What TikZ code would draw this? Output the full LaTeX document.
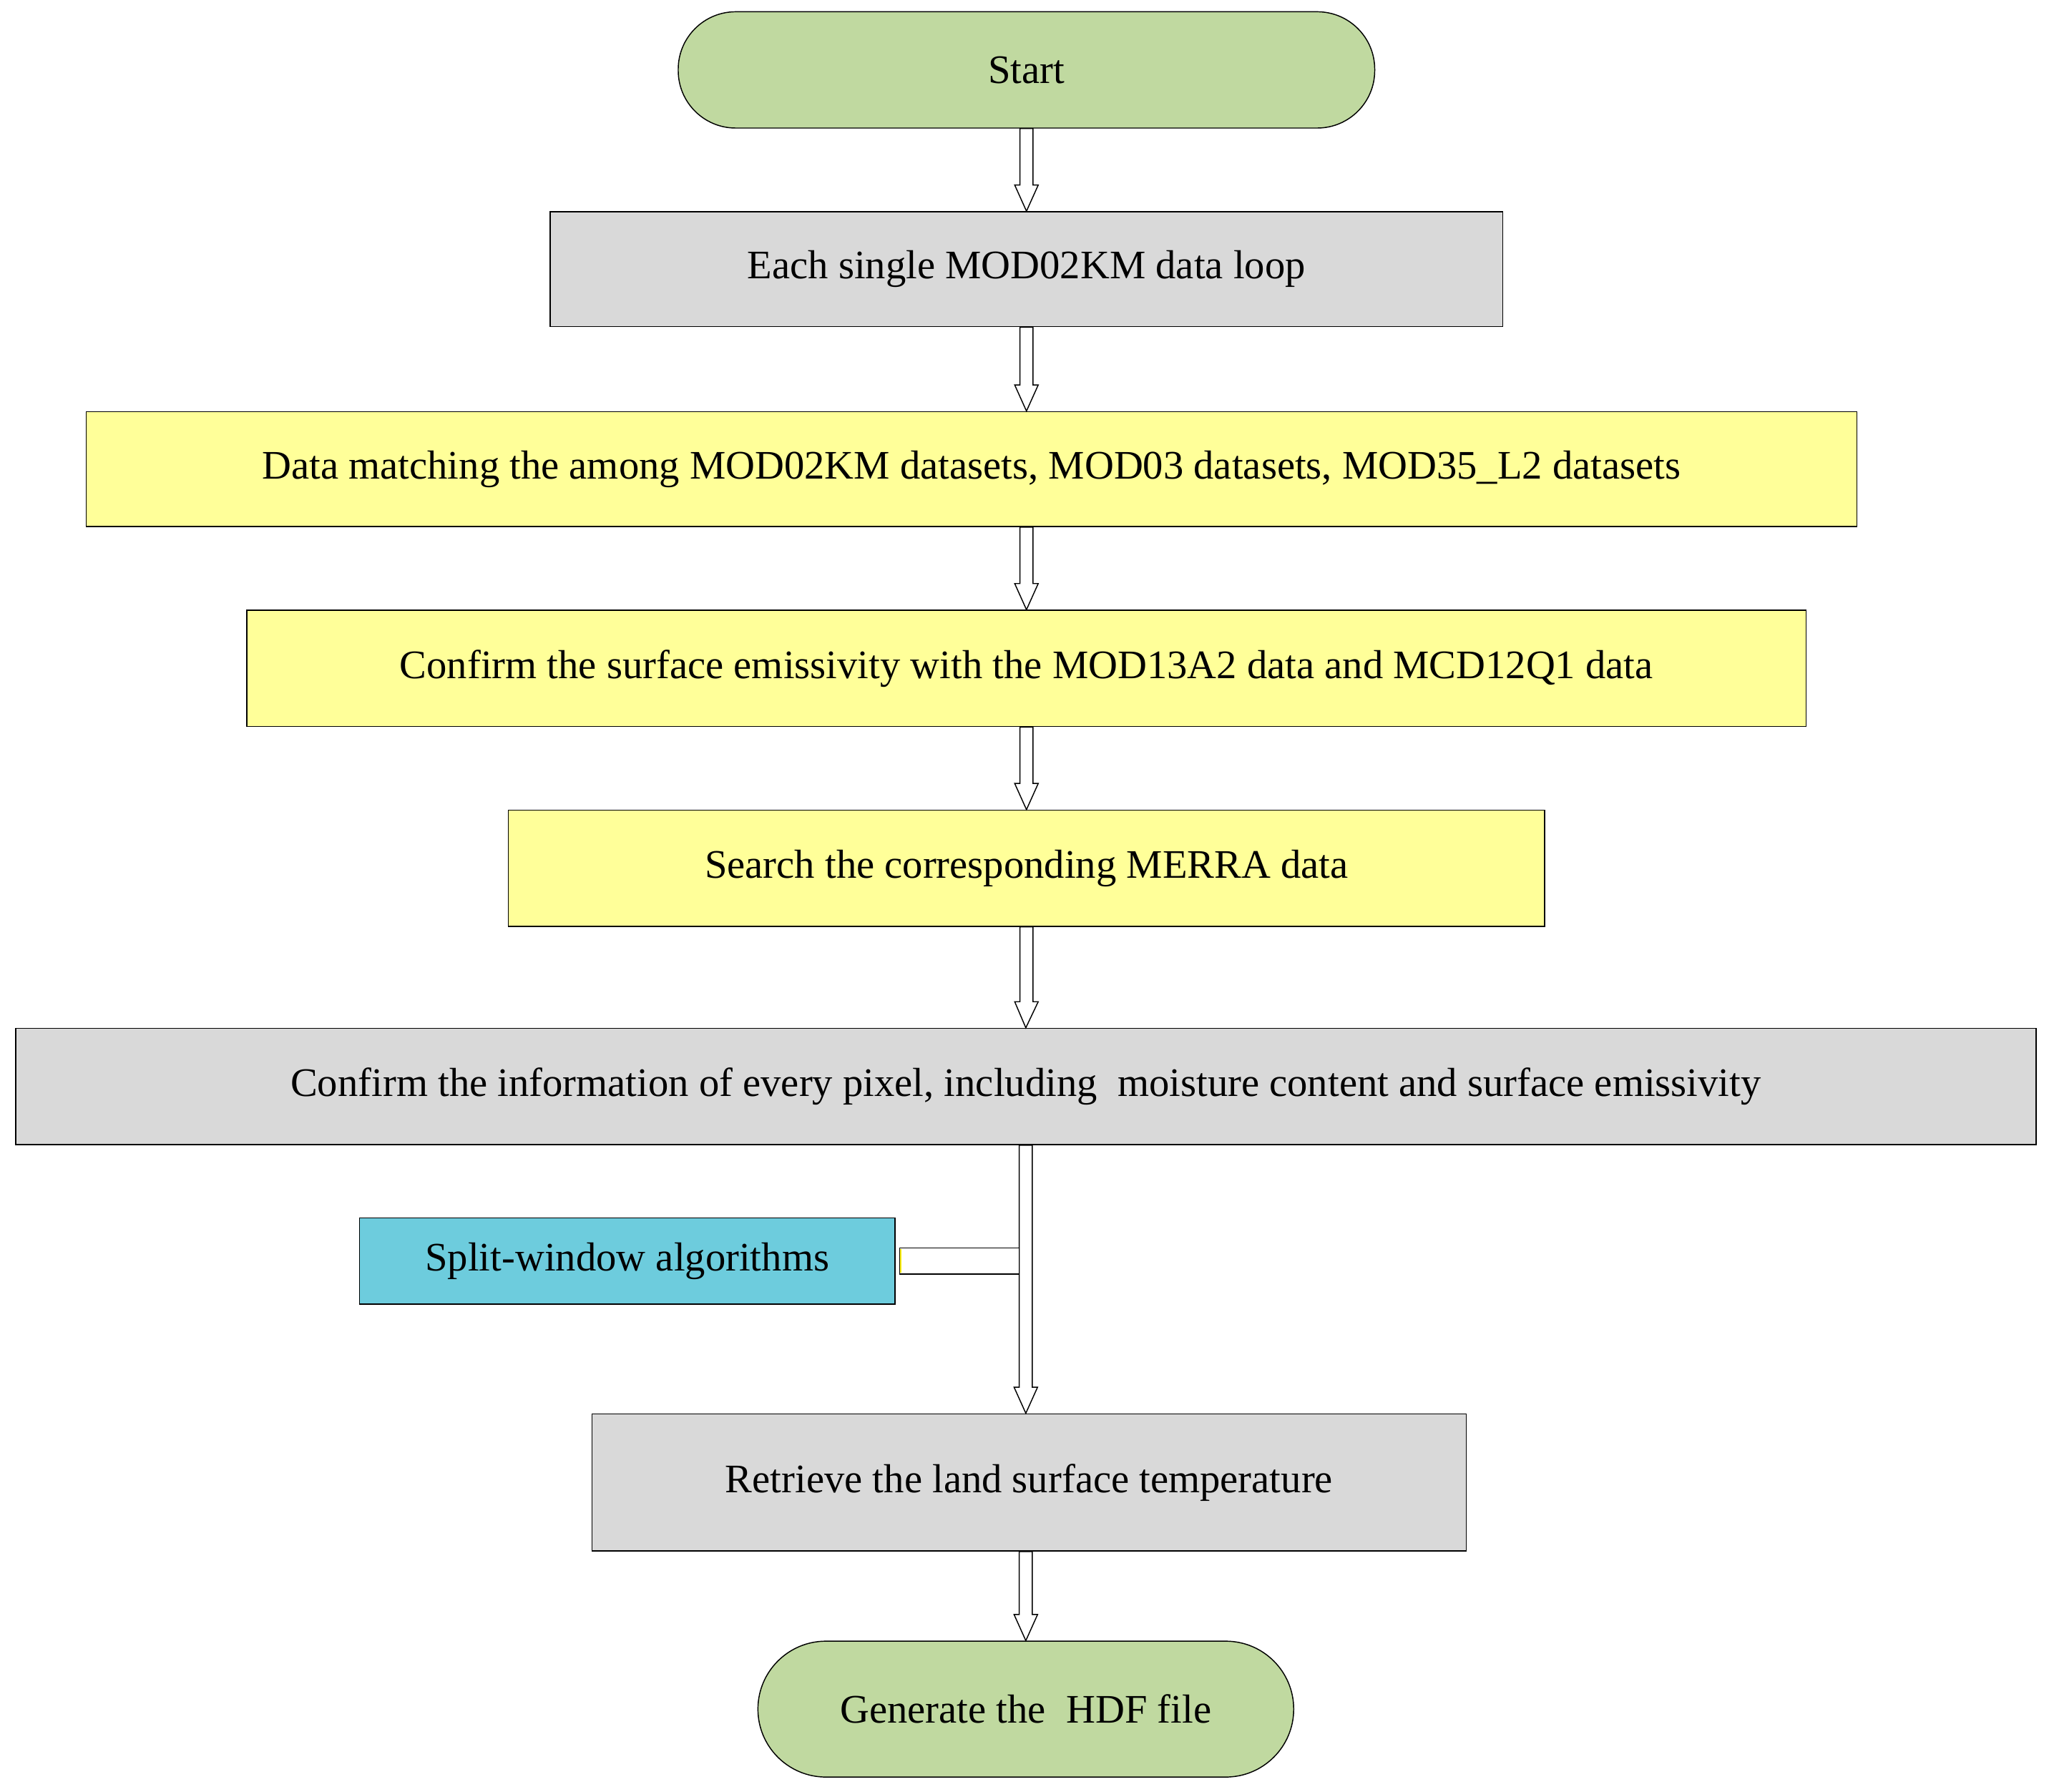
\documentclass[tikz,border=0pt]{standalone}
\usepackage{fontspec}
\setmainfont{Liberation Serif}
\usetikzlibrary{calc}
\definecolor{cgreen}{HTML}{C0D9A0}
\definecolor{cgray}{HTML}{D9D9D9}
\definecolor{cyel}{HTML}{FFFF99}
\definecolor{ccyan}{HTML}{6DCCDD}
\begin{document}
\begin{tikzpicture}[x=1pt,y=1pt,
  box/.style={draw=black,line width=0.8pt,inner sep=0pt,font=\fontsize{31}{36}\selectfont},
  pill/.style={box,rounded corners=44pt,fill=cgreen},
  barrow/.style={draw=black,fill=white,line width=0.8pt,
    to path={let \p1=(\tikztostart), \p2=(\tikztotarget) in
      (\x1-5pt,\y1) -- (\x1-5pt,\y2+20pt) -- (\x1-9pt,\y2+20pt) -- (\x2,\y2)
      -- (\x1+9pt,\y2+20pt) -- (\x1+5pt,\y2+20pt) -- (\x1+5pt,\y1) -- cycle}}]
\useasboundingbox (0,0) rectangle (1568,-1371);
\node[pill,minimum width=533pt,minimum height=89pt] (s) at (785.5,-53.5) {Start};
\node[box,fill=cgray,minimum width=729pt,minimum height=88pt] (b1) at (785.5,-206) {Each single MOD02KM data loop};
\node[box,fill=cyel,minimum width=1355pt,minimum height=88pt] (b2) at (743.5,-359) {Data matching the among MOD02KM datasets, MOD03 datasets, MOD35\_L2 datasets};
\node[box,fill=cyel,minimum width=1193pt,minimum height=89pt] (b3) at (785.5,-511.5) {Confirm the surface emissivity with the MOD13A2 data and MCD12Q1 data};
\node[box,fill=cyel,minimum width=793pt,minimum height=89pt] (b4) at (785.5,-664.5) {Search the corresponding MERRA data};
\node[box,fill=cgray,minimum width=1546pt,minimum height=89pt] (b5) at (785,-831.5) {Confirm the information of every pixel, including\ \ moisture content and surface emissivity};
\node[box,fill=ccyan,minimum width=410pt,minimum height=66pt] (sp) at (480,-965) {Split-window algorithms};
\node[box,fill=cgray,minimum width=669pt,minimum height=105pt] (b6) at (787.5,-1134.5) {Retrieve the land surface temperature};
\node[pill,rounded corners=52pt,minimum width=410pt,minimum height=104pt] (e) at (785,-1308) {Generate the\ \ HDF file};
\path[barrow] (s.south) to (b1.north);
\path[barrow] (b1.south) to (b2.north -| b1.south);
\path[barrow] (b2.south -| b1.south) to (b3.north);
\path[barrow] (b3.south) to (b4.north);
\path[barrow] (b4.south) to (b5.north);
\path[barrow] (b5.south) to (b6.north -| b5.south);
\path[barrow] (b6.south -| b5.south) to (e.north);
\draw[fill=white,line width=0.8pt] ($(sp.east)+(3pt,10pt)$) rectangle ($(sp.east -| b5.south)+(-5pt,-10pt)$);
\draw[yellow,line width=1.2pt] ($(sp.east)+(4pt,9pt)$) -- ($(sp.east)+(4pt,-9pt)$);
\end{tikzpicture}
\end{document}
